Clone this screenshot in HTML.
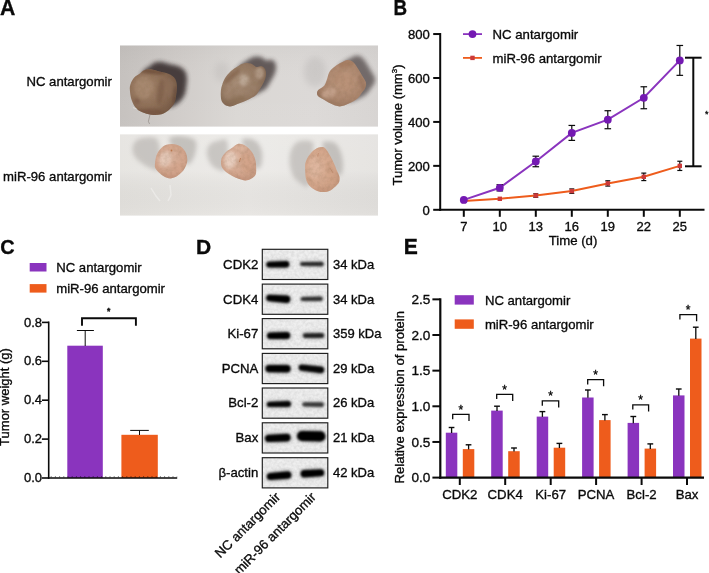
<!DOCTYPE html>
<html lang="en"><head><meta charset="utf-8"><title>Figure</title>
<style>
html,body{margin:0;padding:0;background:#fff;}
svg{display:block;}
svg text{font-family:"Liberation Sans", Arial, Helvetica, sans-serif;fill:#0a0a0a;stroke:#0a0a0a;stroke-width:0.33px;}
</style></head>
<body>
<svg width="709" height="573" viewBox="0 0 709 573">
<rect width="709" height="573" fill="#ffffff"/>
<defs>
<linearGradient id="blotbg" x1="0" y1="0" x2="0" y2="1"><stop offset="0" stop-color="#ececec"/><stop offset="0.5" stop-color="#e4e4e4"/><stop offset="1" stop-color="#ededed"/></linearGradient>
<filter id="bblur" x="-20%" y="-80%" width="140%" height="260%"><feGaussianBlur stdDeviation="1.1 0.95"/></filter>
<filter id="bhalo" x="-30%" y="-150%" width="160%" height="400%"><feGaussianBlur stdDeviation="2.6 2.4"/></filter>
<filter id="noise" x="0" y="0" width="100%" height="100%"><feTurbulence type="fractalNoise" baseFrequency="0.35" numOctaves="2" seed="7" result="n"/><feColorMatrix type="matrix" values="0 0 0 0 0  0 0 0 0 0  0 0 0 0 0  1.6 0 0 0 -0.45"/></filter>
<clipPath id="bc0"><rect x="262.3" y="249.3" width="65.5" height="30.2"/></clipPath><clipPath id="bc1"><rect x="262.3" y="284.1" width="65.5" height="30.2"/></clipPath><clipPath id="bc2"><rect x="262.3" y="318.6" width="65.5" height="30.2"/></clipPath><clipPath id="bc3"><rect x="262.3" y="353.4" width="65.5" height="30.2"/></clipPath><clipPath id="bc4"><rect x="262.3" y="388.0" width="65.5" height="30.2"/></clipPath><clipPath id="bc5"><rect x="262.3" y="422.8" width="65.5" height="30.2"/></clipPath><clipPath id="bc6"><rect x="262.3" y="457.7" width="65.5" height="30.2"/></clipPath>

<linearGradient id="pbg1" x1="0" y1="0" x2="1" y2="0"><stop offset="0" stop-color="#c5c1be"/><stop offset="0.22" stop-color="#d0ccc9"/><stop offset="0.45" stop-color="#dad7d4"/><stop offset="0.75" stop-color="#dcd9d7"/><stop offset="1" stop-color="#d7d4d2"/></linearGradient>
<linearGradient id="pbg1v" x1="0" y1="0" x2="0" y2="1"><stop offset="0" stop-color="#000" stop-opacity="0.03"/><stop offset="0.5" stop-color="#fff" stop-opacity="0"/><stop offset="1" stop-color="#fff" stop-opacity="0.03"/></linearGradient>
<linearGradient id="pbg2" x1="0" y1="0" x2="1" y2="0"><stop offset="0" stop-color="#e4e2de"/><stop offset="0.5" stop-color="#ebe9e6"/><stop offset="1" stop-color="#e3e1de"/></linearGradient>
<linearGradient id="pbg2v" x1="0" y1="0" x2="0" y2="1"><stop offset="0" stop-color="#fff" stop-opacity="0.12"/><stop offset="0.45" stop-color="#fff" stop-opacity="0.1"/><stop offset="1" stop-color="#000" stop-opacity="0.01"/></linearGradient>
<filter id="sh" x="-40%" y="-40%" width="180%" height="180%"><feGaussianBlur stdDeviation="2.2"/></filter>
<filter id="sh3" x="-40%" y="-40%" width="180%" height="180%"><feGaussianBlur stdDeviation="2.0"/></filter>
<filter id="sh2" x="-60%" y="-60%" width="220%" height="220%"><feGaussianBlur stdDeviation="3.2"/></filter>
<filter id="tb" x="-10%" y="-10%" width="120%" height="120%"><feGaussianBlur stdDeviation="0.7"/></filter>
<filter id="tb2" x="-30%" y="-30%" width="160%" height="160%"><feGaussianBlur stdDeviation="1.8"/></filter>
<radialGradient id="gT" cx="0.35" cy="0.4" r="0.75"><stop offset="0" stop-color="#a4856c"/><stop offset="0.55" stop-color="#8e6f58"/><stop offset="1" stop-color="#6f5441"/></radialGradient>
<radialGradient id="gT2" cx="0.4" cy="0.45" r="0.75"><stop offset="0" stop-color="#a88e78"/><stop offset="0.55" stop-color="#957a64"/><stop offset="1" stop-color="#765b47"/></radialGradient>
<radialGradient id="gT3" cx="0.55" cy="0.45" r="0.75"><stop offset="0" stop-color="#c09a80"/><stop offset="0.6" stop-color="#a9846c"/><stop offset="1" stop-color="#8d6b56"/></radialGradient>
<radialGradient id="gB" cx="0.45" cy="0.4" r="0.75"><stop offset="0" stop-color="#dbb5a0"/><stop offset="0.6" stop-color="#d1a48c"/><stop offset="1" stop-color="#c0947c"/></radialGradient>
<radialGradient id="gB3" cx="0.4" cy="0.45" r="0.75"><stop offset="0" stop-color="#dcb299"/><stop offset="0.6" stop-color="#d2a489"/><stop offset="1" stop-color="#c4957a"/></radialGradient>
<filter id="tnoise" x="0" y="0" width="100%" height="100%"><feTurbulence type="fractalNoise" baseFrequency="0.22" numOctaves="3" seed="3"/><feColorMatrix type="matrix" values="0 0 0 0 0.25  0 0 0 0 0.15  0 0 0 0 0.08  0 0 0 1.5 -0.55"/></filter>
<clipPath id="c1"><rect x="120" y="45.3" width="258" height="81.5"/></clipPath>
<clipPath id="c2"><rect x="120" y="134.2" width="258" height="81.6"/></clipPath>
</defs>
<text x="111.9" y="85.7" font-size="13.15" text-anchor="end" font-weight="normal" >NC antargomir</text>
<text x="111.9" y="181.4" font-size="13.15" text-anchor="end" font-weight="normal" >miR-96 antargomir</text>
<g clip-path="url(#c1)">
<rect x="120" y="45.3" width="258" height="81.5" fill="url(#pbg1)"/>
<rect x="120" y="45.3" width="258" height="81.5" fill="url(#pbg1v)"/>
<path d="M129.9,90.4 C129.7,87.8 129.8,86.4 130.5,84.3 C131.2,82.2 132.6,79.4 134.2,77.6 C135.8,75.8 138.6,74.5 140.3,73.3 C142.0,72.1 142.6,70.9 144.5,70.3 C146.4,69.7 149.1,69.1 151.9,69.4 C154.8,69.7 158.6,71.2 161.6,72.1 C164.6,72.9 167.9,73.4 170.2,74.5 C172.4,75.6 174.0,77.0 175.1,78.8 C176.2,80.6 176.7,83.0 176.9,85.5 C177.1,88.0 176.7,91.2 176.3,94.1 C175.9,96.9 175.7,99.9 174.5,102.6 C173.3,105.2 171.2,108.1 169.0,110.0 C166.8,111.9 164.2,113.4 161.6,114.2 C158.9,115.0 155.9,115.1 153.1,114.9 C150.2,114.7 147.2,114.0 144.5,113.0 C141.8,112.0 138.7,110.9 136.6,108.8 C134.5,106.7 132.8,103.3 131.7,100.2 C130.6,97.1 130.1,93.1 129.9,90.4Z" transform="translate(10,-7.5)" fill="#352c2b" opacity="0.88" filter="url(#sh)"/>
<path d="M220.8,95.4 C220.7,93.1 220.7,90.3 221.4,87.5 C222.1,84.7 223.2,81.2 224.8,78.4 C226.4,75.7 228.7,73.1 231.0,71.0 C233.3,68.9 236.0,67.2 238.4,65.9 C240.8,64.6 243.1,63.5 245.2,63.1 C247.3,62.7 249.0,63.0 250.9,63.6 C252.8,64.2 254.6,66.5 256.5,67.0 C258.4,67.5 260.7,65.9 262.2,66.5 C263.7,67.1 265.0,68.6 265.6,70.4 C266.2,72.2 266.1,74.9 265.6,77.2 C265.1,79.5 263.9,81.8 262.8,84.1 C261.7,86.4 260.0,89.0 258.8,90.9 C257.6,92.8 257.3,93.9 255.4,95.4 C253.5,96.9 250.2,98.6 247.5,99.9 C244.8,101.2 242.2,102.2 239.5,103.3 C236.8,104.3 233.9,105.8 231.6,106.2 C229.3,106.6 227.5,106.4 225.9,105.6 C224.3,104.8 222.8,103.3 221.9,101.6 C221.1,99.9 220.9,97.8 220.8,95.4Z" transform="translate(10,-6.5)" fill="#352c2b" opacity="0.72" filter="url(#sh)"/>
<path d="M317.0,93.4 C317.0,92.4 317.0,91.3 318.2,90.0 C319.4,88.7 322.9,87.4 324.4,85.5 C325.9,83.6 326.3,80.9 327.2,78.6 C328.1,76.3 328.2,73.9 329.5,71.8 C330.8,69.7 333.1,67.8 335.2,66.2 C337.3,64.6 339.9,63.2 342.0,62.2 C344.1,61.2 345.8,59.9 347.7,59.9 C349.6,59.9 351.6,60.8 353.3,62.2 C355.0,63.6 356.5,66.2 357.9,68.4 C359.3,70.6 360.6,72.9 361.9,75.2 C363.2,77.5 365.2,80.0 365.8,82.1 C366.4,84.2 366.1,85.8 365.3,87.7 C364.6,89.6 362.7,91.5 361.3,93.4 C359.9,95.3 358.9,97.4 356.8,99.1 C354.7,100.8 351.7,102.4 348.8,103.6 C345.9,104.8 342.7,106.5 339.7,106.5 C336.7,106.5 333.4,104.8 330.6,103.6 C327.8,102.4 324.8,100.3 322.7,99.1 C320.6,97.9 319.1,97.2 318.2,96.2 C317.2,95.2 317.0,94.4 317.0,93.4Z" transform="translate(9,-4.5)" fill="#352c2b" opacity="0.62" filter="url(#sh)"/>
<ellipse cx="315" cy="72" rx="11" ry="15" fill="#8f8c8b" opacity="0.20" filter="url(#sh2)"/>
<ellipse cx="222" cy="72" rx="8" ry="10" fill="#8f8c8b" opacity="0.15" filter="url(#sh2)"/>
<clipPath id="tc1"><path d="M129.9,90.4 C129.7,87.8 129.8,86.4 130.5,84.3 C131.2,82.2 132.6,79.4 134.2,77.6 C135.8,75.8 138.6,74.5 140.3,73.3 C142.0,72.1 142.6,70.9 144.5,70.3 C146.4,69.7 149.1,69.1 151.9,69.4 C154.8,69.7 158.6,71.2 161.6,72.1 C164.6,72.9 167.9,73.4 170.2,74.5 C172.4,75.6 174.0,77.0 175.1,78.8 C176.2,80.6 176.7,83.0 176.9,85.5 C177.1,88.0 176.7,91.2 176.3,94.1 C175.9,96.9 175.7,99.9 174.5,102.6 C173.3,105.2 171.2,108.1 169.0,110.0 C166.8,111.9 164.2,113.4 161.6,114.2 C158.9,115.0 155.9,115.1 153.1,114.9 C150.2,114.7 147.2,114.0 144.5,113.0 C141.8,112.0 138.7,110.9 136.6,108.8 C134.5,106.7 132.8,103.3 131.7,100.2 C130.6,97.1 130.1,93.1 129.9,90.4Z"/></clipPath>
<g filter="url(#tb)">
<path d="M129.9,90.4 C129.7,87.8 129.8,86.4 130.5,84.3 C131.2,82.2 132.6,79.4 134.2,77.6 C135.8,75.8 138.6,74.5 140.3,73.3 C142.0,72.1 142.6,70.9 144.5,70.3 C146.4,69.7 149.1,69.1 151.9,69.4 C154.8,69.7 158.6,71.2 161.6,72.1 C164.6,72.9 167.9,73.4 170.2,74.5 C172.4,75.6 174.0,77.0 175.1,78.8 C176.2,80.6 176.7,83.0 176.9,85.5 C177.1,88.0 176.7,91.2 176.3,94.1 C175.9,96.9 175.7,99.9 174.5,102.6 C173.3,105.2 171.2,108.1 169.0,110.0 C166.8,111.9 164.2,113.4 161.6,114.2 C158.9,115.0 155.9,115.1 153.1,114.9 C150.2,114.7 147.2,114.0 144.5,113.0 C141.8,112.0 138.7,110.9 136.6,108.8 C134.5,106.7 132.8,103.3 131.7,100.2 C130.6,97.1 130.1,93.1 129.9,90.4Z" fill="url(#gT)"/>
<g clip-path="url(#tc1)">
<g filter="url(#tb2)">
<ellipse cx="143.5" cy="88" rx="9" ry="11" fill="#a78a70" opacity="0.8" transform="rotate(0 143.5 88)"/>
<ellipse cx="160.5" cy="92" rx="3.5" ry="13" fill="#775842" opacity="0.6" transform="rotate(8 160.5 92)"/>
<ellipse cx="170" cy="88" rx="4" ry="9" fill="#8f705a" opacity="0.6" transform="rotate(0 170 88)"/>
<ellipse cx="152" cy="71.5" rx="14" ry="2.6" fill="#684a34" opacity="0.75" transform="rotate(6 152 71.5)"/>
<ellipse cx="150" cy="112" rx="15" ry="3.2" fill="#74533e" opacity="0.7" transform="rotate(0 150 112)"/>
<ellipse cx="137" cy="101" rx="3" ry="3" fill="#74503b" opacity="0.5" transform="rotate(0 137 101)"/>
<ellipse cx="175" cy="98" rx="2.5" ry="12" fill="#5f4636" opacity="0.55" transform="rotate(0 175 98)"/>
</g>
<rect x="127.9" y="67.4" width="51.0" height="49.5" filter="url(#tnoise)" opacity="0.28"/>
</g></g>
<clipPath id="tc2"><path d="M220.8,95.4 C220.7,93.1 220.7,90.3 221.4,87.5 C222.1,84.7 223.2,81.2 224.8,78.4 C226.4,75.7 228.7,73.1 231.0,71.0 C233.3,68.9 236.0,67.2 238.4,65.9 C240.8,64.6 243.1,63.5 245.2,63.1 C247.3,62.7 249.0,63.0 250.9,63.6 C252.8,64.2 254.6,66.5 256.5,67.0 C258.4,67.5 260.7,65.9 262.2,66.5 C263.7,67.1 265.0,68.6 265.6,70.4 C266.2,72.2 266.1,74.9 265.6,77.2 C265.1,79.5 263.9,81.8 262.8,84.1 C261.7,86.4 260.0,89.0 258.8,90.9 C257.6,92.8 257.3,93.9 255.4,95.4 C253.5,96.9 250.2,98.6 247.5,99.9 C244.8,101.2 242.2,102.2 239.5,103.3 C236.8,104.3 233.9,105.8 231.6,106.2 C229.3,106.6 227.5,106.4 225.9,105.6 C224.3,104.8 222.8,103.3 221.9,101.6 C221.1,99.9 220.9,97.8 220.8,95.4Z"/></clipPath>
<g filter="url(#tb)">
<path d="M220.8,95.4 C220.7,93.1 220.7,90.3 221.4,87.5 C222.1,84.7 223.2,81.2 224.8,78.4 C226.4,75.7 228.7,73.1 231.0,71.0 C233.3,68.9 236.0,67.2 238.4,65.9 C240.8,64.6 243.1,63.5 245.2,63.1 C247.3,62.7 249.0,63.0 250.9,63.6 C252.8,64.2 254.6,66.5 256.5,67.0 C258.4,67.5 260.7,65.9 262.2,66.5 C263.7,67.1 265.0,68.6 265.6,70.4 C266.2,72.2 266.1,74.9 265.6,77.2 C265.1,79.5 263.9,81.8 262.8,84.1 C261.7,86.4 260.0,89.0 258.8,90.9 C257.6,92.8 257.3,93.9 255.4,95.4 C253.5,96.9 250.2,98.6 247.5,99.9 C244.8,101.2 242.2,102.2 239.5,103.3 C236.8,104.3 233.9,105.8 231.6,106.2 C229.3,106.6 227.5,106.4 225.9,105.6 C224.3,104.8 222.8,103.3 221.9,101.6 C221.1,99.9 220.9,97.8 220.8,95.4Z" fill="url(#gT2)"/>
<g clip-path="url(#tc2)">
<g filter="url(#tb2)">
<ellipse cx="244" cy="80" rx="5" ry="5.5" fill="#bfad9b" opacity="0.8" transform="rotate(0 244 80)"/>
<ellipse cx="259.5" cy="73" rx="4.5" ry="6" fill="#b8a18d" opacity="0.8" transform="rotate(0 259.5 73)"/>
<ellipse cx="232" cy="76" rx="11" ry="2.6" fill="#7f6049" opacity="0.65" transform="rotate(-42 232 76)"/>
<ellipse cx="236" cy="101" rx="11" ry="3.2" fill="#85694f" opacity="0.55" transform="rotate(-22 236 101)"/>
<ellipse cx="228" cy="92" rx="4" ry="7" fill="#a58a73" opacity="0.5" transform="rotate(0 228 92)"/>
<ellipse cx="253" cy="89" rx="4" ry="7" fill="#9a7f69" opacity="0.5" transform="rotate(30 253 89)"/>
</g>
<rect x="218.8" y="61.1" width="48.8" height="47.1" filter="url(#tnoise)" opacity="0.28"/>
</g></g>
<clipPath id="tc3"><path d="M317.0,93.4 C317.0,92.4 317.0,91.3 318.2,90.0 C319.4,88.7 322.9,87.4 324.4,85.5 C325.9,83.6 326.3,80.9 327.2,78.6 C328.1,76.3 328.2,73.9 329.5,71.8 C330.8,69.7 333.1,67.8 335.2,66.2 C337.3,64.6 339.9,63.2 342.0,62.2 C344.1,61.2 345.8,59.9 347.7,59.9 C349.6,59.9 351.6,60.8 353.3,62.2 C355.0,63.6 356.5,66.2 357.9,68.4 C359.3,70.6 360.6,72.9 361.9,75.2 C363.2,77.5 365.2,80.0 365.8,82.1 C366.4,84.2 366.1,85.8 365.3,87.7 C364.6,89.6 362.7,91.5 361.3,93.4 C359.9,95.3 358.9,97.4 356.8,99.1 C354.7,100.8 351.7,102.4 348.8,103.6 C345.9,104.8 342.7,106.5 339.7,106.5 C336.7,106.5 333.4,104.8 330.6,103.6 C327.8,102.4 324.8,100.3 322.7,99.1 C320.6,97.9 319.1,97.2 318.2,96.2 C317.2,95.2 317.0,94.4 317.0,93.4Z"/></clipPath>
<g filter="url(#tb)">
<path d="M317.0,93.4 C317.0,92.4 317.0,91.3 318.2,90.0 C319.4,88.7 322.9,87.4 324.4,85.5 C325.9,83.6 326.3,80.9 327.2,78.6 C328.1,76.3 328.2,73.9 329.5,71.8 C330.8,69.7 333.1,67.8 335.2,66.2 C337.3,64.6 339.9,63.2 342.0,62.2 C344.1,61.2 345.8,59.9 347.7,59.9 C349.6,59.9 351.6,60.8 353.3,62.2 C355.0,63.6 356.5,66.2 357.9,68.4 C359.3,70.6 360.6,72.9 361.9,75.2 C363.2,77.5 365.2,80.0 365.8,82.1 C366.4,84.2 366.1,85.8 365.3,87.7 C364.6,89.6 362.7,91.5 361.3,93.4 C359.9,95.3 358.9,97.4 356.8,99.1 C354.7,100.8 351.7,102.4 348.8,103.6 C345.9,104.8 342.7,106.5 339.7,106.5 C336.7,106.5 333.4,104.8 330.6,103.6 C327.8,102.4 324.8,100.3 322.7,99.1 C320.6,97.9 319.1,97.2 318.2,96.2 C317.2,95.2 317.0,94.4 317.0,93.4Z" fill="url(#gT3)"/>
<g clip-path="url(#tc3)">
<g filter="url(#tb2)">
<ellipse cx="329" cy="93" rx="8" ry="5" fill="#c6a48d" opacity="0.8" transform="rotate(-25 329 93)"/>
<ellipse cx="346" cy="64" rx="8" ry="3.5" fill="#a1775c" opacity="0.6" transform="rotate(-15 346 64)"/>
<ellipse cx="347" cy="82" rx="7" ry="9" fill="#b88f74" opacity="0.6" transform="rotate(0 347 82)"/>
<ellipse cx="362" cy="84" rx="2.6" ry="10" fill="#94705a" opacity="0.6" transform="rotate(-20 362 84)"/>
<ellipse cx="342" cy="104" rx="11" ry="2.6" fill="#a07b64" opacity="0.55" transform="rotate(-12 342 104)"/>
<ellipse cx="338" cy="77" rx="2" ry="8" fill="#a47a60" opacity="0.4" transform="rotate(15 338 77)"/>
</g>
<rect x="315.0" y="57.9" width="52.8" height="50.6" filter="url(#tnoise)" opacity="0.28"/>
</g></g>
<path d="M150,114.5 L148.4,121.5 L149.6,124" stroke="#6a6058" stroke-width="0.5" fill="none" opacity="0.8"/>
<path d="M136.6,108.8 L133,107.6" stroke="#e8e2dc" stroke-width="0.7" fill="none"/>
</g>
<g clip-path="url(#c2)">
<rect x="120" y="134.2" width="258" height="81.6" fill="url(#pbg2)"/>
<rect x="120" y="134.2" width="258" height="81.6" fill="url(#pbg2v)"/>
<path d="M132.7,146.7 C133.3,144.2 135.0,141.3 137.3,139.8 C139.6,138.3 143.1,137.3 146.5,137.5 C149.9,137.7 155.8,135.7 158.0,140.9 C160.2,146.1 161.5,164.1 160.0,168.5 C158.5,172.9 152.2,168.6 148.8,167.4 C145.4,166.2 142.1,163.7 139.6,161.6 C137.1,159.5 135.0,157.2 133.8,154.7 C132.7,152.2 132.1,149.2 132.7,146.7Z" fill="#aaa6a2" opacity="0.52" filter="url(#sh3)"/>
<path d="M206.8,152.0 C207.0,149.2 208.3,146.0 210.2,144.1 C212.1,142.2 215.4,141.1 218.2,140.7 C221.0,140.3 225.9,137.1 227.2,141.8 C228.5,146.5 228.1,164.7 226.0,169.0 C223.9,173.3 217.6,169.2 214.8,167.9 C212.0,166.6 210.4,163.8 209.1,161.1 C207.8,158.4 206.6,154.8 206.8,152.0Z" fill="#aaa6a2" opacity="0.52" filter="url(#sh3)"/>
<path d="M289.5,159.7 C289.6,155.9 290.3,151.4 291.8,148.4 C293.3,145.4 295.4,142.7 298.6,141.5 C301.8,140.3 308.6,140.3 311.1,141.5 C313.6,142.7 313.8,141.2 313.4,148.4 C313.0,155.6 311.8,179.4 309.0,184.7 C306.2,190.0 299.4,182.4 296.4,180.1 C293.4,177.8 292.3,174.4 291.2,171.0 C290.1,167.6 289.4,163.5 289.5,159.7Z" fill="#aaa6a2" opacity="0.52" filter="url(#sh3)"/>
<path d="M169.5,140.9 C168.4,137.0 172.0,136.9 175.3,136.3 C178.6,135.7 185.7,136.5 189.1,137.5 C192.5,138.5 195.1,139.2 196.0,142.1 C196.9,145.0 196.0,151.1 194.8,154.7 C193.7,158.3 191.2,163.0 189.1,163.9 C187.0,164.8 185.3,163.8 182.0,160.0 C178.7,156.2 170.6,144.8 169.5,140.9Z" fill="#a6a29e" opacity="0.56" filter="url(#sh3)"/>
<path d="M242.0,141.8 C241.4,138.2 245.2,138.4 247.7,138.4 C250.2,138.4 254.4,139.5 256.8,141.8 C259.2,144.1 261.1,148.2 261.9,152.0 C262.6,155.8 262.1,161.7 261.3,164.5 C260.5,167.3 258.5,169.8 256.8,169.0 C255.1,168.2 253.5,164.5 251.0,160.0 C248.5,155.5 242.6,145.4 242.0,141.8Z" fill="#a6a29e" opacity="0.56" filter="url(#sh3)"/>
<path d="M322.5,144.9 C321.9,140.5 325.8,141.7 328.1,141.5 C330.4,141.3 333.8,141.5 336.1,143.8 C338.4,146.1 340.7,151.0 341.8,155.2 C342.9,159.4 343.3,165.4 342.9,168.8 C342.5,172.2 341.3,175.7 339.5,175.6 C337.7,175.5 334.8,173.1 332.0,168.0 C329.2,162.9 323.1,149.3 322.5,144.9Z" fill="#a6a29e" opacity="0.56" filter="url(#sh3)"/>
<clipPath id="tc4"><path d="M154.9,165.5 C154.9,164.0 155.1,161.4 155.5,159.4 C155.9,157.4 156.4,155.2 157.4,153.3 C158.4,151.4 160.1,149.2 161.6,147.8 C163.1,146.4 164.4,145.4 166.5,144.8 C168.6,144.2 171.6,143.9 173.9,144.2 C176.2,144.5 178.7,145.3 180.6,146.6 C182.5,147.9 184.4,150.0 185.5,152.1 C186.6,154.2 187.2,157.2 187.3,159.4 C187.4,161.6 186.9,163.5 186.1,165.5 C185.3,167.5 184.0,169.8 182.4,171.6 C180.8,173.4 178.3,175.4 176.3,176.5 C174.3,177.6 172.2,178.4 170.2,178.4 C168.2,178.4 166.0,177.5 164.1,176.5 C162.2,175.5 160.0,173.6 158.6,172.3 C157.2,171.0 156.1,169.7 155.5,168.6 C154.9,167.5 154.9,167.0 154.9,165.5Z"/></clipPath>
<g filter="url(#tb)">
<path d="M154.9,165.5 C154.9,164.0 155.1,161.4 155.5,159.4 C155.9,157.4 156.4,155.2 157.4,153.3 C158.4,151.4 160.1,149.2 161.6,147.8 C163.1,146.4 164.4,145.4 166.5,144.8 C168.6,144.2 171.6,143.9 173.9,144.2 C176.2,144.5 178.7,145.3 180.6,146.6 C182.5,147.9 184.4,150.0 185.5,152.1 C186.6,154.2 187.2,157.2 187.3,159.4 C187.4,161.6 186.9,163.5 186.1,165.5 C185.3,167.5 184.0,169.8 182.4,171.6 C180.8,173.4 178.3,175.4 176.3,176.5 C174.3,177.6 172.2,178.4 170.2,178.4 C168.2,178.4 166.0,177.5 164.1,176.5 C162.2,175.5 160.0,173.6 158.6,172.3 C157.2,171.0 156.1,169.7 155.5,168.6 C154.9,167.5 154.9,167.0 154.9,165.5Z" fill="url(#gB)"/>
<g clip-path="url(#tc4)">
<g filter="url(#tb2)">
<ellipse cx="165" cy="159" rx="6" ry="8" fill="#ead0c1" opacity="0.75" transform="rotate(20 165 159)"/>
<ellipse cx="178" cy="168" rx="6" ry="6" fill="#d3a48b" opacity="0.6" transform="rotate(0 178 168)"/>
<ellipse cx="172" cy="147.5" rx="9" ry="2.5" fill="#d4a58b" opacity="0.6" transform="rotate(0 172 147.5)"/>
<ellipse cx="170" cy="176.5" rx="10" ry="2.4" fill="#c4937a" opacity="0.6" transform="rotate(0 170 176.5)"/>
</g>
<rect x="152.9" y="142.2" width="36.4" height="38.2" filter="url(#tnoise)" opacity="0.28"/>
</g></g>
<clipPath id="tc5"><path d="M221.0,163.4 C220.9,161.5 221.2,159.0 222.1,157.1 C222.9,155.2 224.5,153.5 226.1,152.0 C227.7,150.5 229.9,149.4 231.8,148.1 C233.7,146.8 235.6,144.7 237.5,144.1 C239.4,143.5 241.2,143.8 243.1,144.6 C245.0,145.3 247.1,147.0 248.8,148.6 C250.5,150.2 252.2,152.2 253.3,154.3 C254.4,156.4 255.1,158.8 255.6,161.1 C256.1,163.4 256.2,165.6 256.2,167.9 C256.2,170.2 256.4,172.9 255.6,174.7 C254.8,176.5 252.8,177.8 251.1,178.7 C249.4,179.6 247.5,180.4 245.4,180.4 C243.3,180.4 240.8,179.4 238.6,178.7 C236.4,177.9 234.3,176.9 232.3,175.9 C230.3,174.9 228.3,173.7 226.7,172.5 C225.1,171.3 223.6,170.0 222.7,168.5 C221.8,167.0 221.1,165.3 221.0,163.4Z"/></clipPath>
<g filter="url(#tb)">
<path d="M221.0,163.4 C220.9,161.5 221.2,159.0 222.1,157.1 C222.9,155.2 224.5,153.5 226.1,152.0 C227.7,150.5 229.9,149.4 231.8,148.1 C233.7,146.8 235.6,144.7 237.5,144.1 C239.4,143.5 241.2,143.8 243.1,144.6 C245.0,145.3 247.1,147.0 248.8,148.6 C250.5,150.2 252.2,152.2 253.3,154.3 C254.4,156.4 255.1,158.8 255.6,161.1 C256.1,163.4 256.2,165.6 256.2,167.9 C256.2,170.2 256.4,172.9 255.6,174.7 C254.8,176.5 252.8,177.8 251.1,178.7 C249.4,179.6 247.5,180.4 245.4,180.4 C243.3,180.4 240.8,179.4 238.6,178.7 C236.4,177.9 234.3,176.9 232.3,175.9 C230.3,174.9 228.3,173.7 226.7,172.5 C225.1,171.3 223.6,170.0 222.7,168.5 C221.8,167.0 221.1,165.3 221.0,163.4Z" fill="url(#gB)"/>
<g clip-path="url(#tc5)">
<g filter="url(#tb2)">
<ellipse cx="230" cy="160" rx="6" ry="9" fill="#ecd5c7" opacity="0.8" transform="rotate(10 230 160)"/>
<ellipse cx="246" cy="163" rx="6" ry="10" fill="#d3a286" opacity="0.65" transform="rotate(-10 246 163)"/>
<ellipse cx="241" cy="148" rx="7" ry="3" fill="#dfb9a2" opacity="0.6" transform="rotate(0 241 148)"/>
<ellipse cx="241" cy="179" rx="10" ry="2.4" fill="#c4937a" opacity="0.6" transform="rotate(8 241 179)"/>
</g>
<rect x="219.0" y="142.1" width="39.2" height="40.3" filter="url(#tnoise)" opacity="0.28"/>
</g></g>
<clipPath id="tc6"><path d="M305.2,169.9 C305.1,167.2 305.0,165.2 305.4,163.1 C305.8,161.0 306.6,159.3 307.7,157.4 C308.8,155.5 310.5,153.4 312.2,151.8 C313.9,150.2 316.0,148.6 317.9,147.8 C319.8,147.0 322.1,146.7 323.6,147.2 C325.1,147.7 325.9,149.1 327.0,150.6 C328.1,152.1 329.3,154.2 330.4,156.3 C331.5,158.4 332.8,160.8 333.8,163.1 C334.8,165.4 335.7,167.6 336.6,169.9 C337.6,172.2 339.1,174.6 339.5,176.7 C339.9,178.8 339.7,180.7 338.9,182.4 C338.1,184.1 336.5,185.5 334.9,186.9 C333.3,188.3 331.4,190.0 329.3,190.9 C327.2,191.8 324.8,192.2 322.5,192.1 C320.2,192.0 317.8,191.4 315.6,190.3 C313.4,189.2 311.0,187.7 309.4,185.8 C307.8,183.9 306.7,181.7 306.0,179.0 C305.3,176.3 305.3,172.6 305.2,169.9Z"/></clipPath>
<g filter="url(#tb)">
<path d="M305.2,169.9 C305.1,167.2 305.0,165.2 305.4,163.1 C305.8,161.0 306.6,159.3 307.7,157.4 C308.8,155.5 310.5,153.4 312.2,151.8 C313.9,150.2 316.0,148.6 317.9,147.8 C319.8,147.0 322.1,146.7 323.6,147.2 C325.1,147.7 325.9,149.1 327.0,150.6 C328.1,152.1 329.3,154.2 330.4,156.3 C331.5,158.4 332.8,160.8 333.8,163.1 C334.8,165.4 335.7,167.6 336.6,169.9 C337.6,172.2 339.1,174.6 339.5,176.7 C339.9,178.8 339.7,180.7 338.9,182.4 C338.1,184.1 336.5,185.5 334.9,186.9 C333.3,188.3 331.4,190.0 329.3,190.9 C327.2,191.8 324.8,192.2 322.5,192.1 C320.2,192.0 317.8,191.4 315.6,190.3 C313.4,189.2 311.0,187.7 309.4,185.8 C307.8,183.9 306.7,181.7 306.0,179.0 C305.3,176.3 305.3,172.6 305.2,169.9Z" fill="url(#gB3)"/>
<g clip-path="url(#tc6)">
<g filter="url(#tb2)">
<ellipse cx="314" cy="168" rx="6" ry="11" fill="#dfb8a1" opacity="0.7" transform="rotate(0 314 168)"/>
<ellipse cx="330" cy="172" rx="4" ry="10" fill="#cf9f84" opacity="0.5" transform="rotate(-20 330 172)"/>
<ellipse cx="322" cy="190" rx="10" ry="2.6" fill="#c5957b" opacity="0.6" transform="rotate(0 322 190)"/>
<ellipse cx="318" cy="150" rx="6" ry="3" fill="#d6a88d" opacity="0.5" transform="rotate(-30 318 150)"/>
</g>
<rect x="303.2" y="145.2" width="38.3" height="48.9" filter="url(#tnoise)" opacity="0.28"/>
</g></g>
<circle cx="171.5" cy="150.5" r="0.9" fill="#b26a3c" opacity="0.8" filter="url(#tb)"/>
<path d="M240.6,158 L239.4,162" stroke="#b06a44" stroke-width="0.9" opacity="0.7" fill="none" filter="url(#tb)"/>
<path d="M330,168 L333,173 M318.5,153 L317.6,156.5" stroke="#b47a5c" stroke-width="0.8" opacity="0.6" fill="none" filter="url(#tb)"/>
<path d="M151,188 L156,196 L160,201 M170,185 L171,195 L168,201" stroke="#f8f7f6" stroke-width="1.4" fill="none" opacity="0.45" filter="url(#tb)"/>
</g>
<line x1="440.2" y1="33.04000000000002" x2="440.2" y2="210.8" stroke="#0a0a0a" stroke-width="2" />
<line x1="439.2" y1="209.8" x2="704.5" y2="209.8" stroke="#0a0a0a" stroke-width="2" />
<line x1="433.2" y1="209.8" x2="440.2" y2="209.8" stroke="#0a0a0a" stroke-width="2" />
<text x="429.9" y="214.8" font-size="13.1" text-anchor="end" font-weight="normal" >0</text>
<line x1="433.2" y1="165.86" x2="440.2" y2="165.86" stroke="#0a0a0a" stroke-width="2" />
<text x="429.9" y="170.86" font-size="13.1" text-anchor="end" font-weight="normal" >200</text>
<line x1="433.2" y1="121.92000000000002" x2="440.2" y2="121.92000000000002" stroke="#0a0a0a" stroke-width="2" />
<text x="429.9" y="126.92000000000002" font-size="13.1" text-anchor="end" font-weight="normal" >400</text>
<line x1="433.2" y1="77.98000000000002" x2="440.2" y2="77.98000000000002" stroke="#0a0a0a" stroke-width="2" />
<text x="429.9" y="82.98000000000002" font-size="13.1" text-anchor="end" font-weight="normal" >600</text>
<line x1="433.2" y1="34.04000000000002" x2="440.2" y2="34.04000000000002" stroke="#0a0a0a" stroke-width="2" />
<text x="429.9" y="39.04000000000002" font-size="13.1" text-anchor="end" font-weight="normal" >800</text>
<line x1="463.8" y1="209.8" x2="463.8" y2="216.8" stroke="#0a0a0a" stroke-width="2" />
<text x="463.8" y="230.8" font-size="13" text-anchor="middle" font-weight="normal" >7</text>
<line x1="499.8" y1="209.8" x2="499.8" y2="216.8" stroke="#0a0a0a" stroke-width="2" />
<text x="499.8" y="230.8" font-size="13" text-anchor="middle" font-weight="normal" >10</text>
<line x1="535.8" y1="209.8" x2="535.8" y2="216.8" stroke="#0a0a0a" stroke-width="2" />
<text x="535.8" y="230.8" font-size="13" text-anchor="middle" font-weight="normal" >13</text>
<line x1="571.8" y1="209.8" x2="571.8" y2="216.8" stroke="#0a0a0a" stroke-width="2" />
<text x="571.8" y="230.8" font-size="13" text-anchor="middle" font-weight="normal" >16</text>
<line x1="607.8" y1="209.8" x2="607.8" y2="216.8" stroke="#0a0a0a" stroke-width="2" />
<text x="607.8" y="230.8" font-size="13" text-anchor="middle" font-weight="normal" >19</text>
<line x1="643.8" y1="209.8" x2="643.8" y2="216.8" stroke="#0a0a0a" stroke-width="2" />
<text x="643.8" y="230.8" font-size="13" text-anchor="middle" font-weight="normal" >22</text>
<line x1="679.8" y1="209.8" x2="679.8" y2="216.8" stroke="#0a0a0a" stroke-width="2" />
<text x="679.8" y="230.8" font-size="13" text-anchor="middle" font-weight="normal" >25</text>
<text x="573" y="244.8" font-size="13.2" text-anchor="middle" font-weight="normal" >Time (d)</text>
<text transform="translate(401.5,125) rotate(-90)" font-size="13" text-anchor="middle">Tumor volume (mm<tspan font-size="8" dy="-4.5">3</tspan><tspan dy="4.5">)</tspan></text>
<polyline points="463.8,201.0 499.8,198.8 535.8,195.5 571.8,191.1 607.8,183.4 643.8,176.8 679.8,165.9" fill="none" stroke="#EE5C1C" stroke-width="2"/>
<rect x="461.6" y="198.8" width="4.4" height="4.4" fill="#CC3A3A"/>
<rect x="497.6" y="196.6" width="4.4" height="4.4" fill="#CC3A3A"/>
<line x1="535.8" y1="193.76190000000003" x2="535.8" y2="197.27710000000002" stroke="#0a0a0a" stroke-width="1.2" />
<line x1="533.3" y1="193.76190000000003" x2="538.3" y2="193.76190000000003" stroke="#0a0a0a" stroke-width="1.2" />
<line x1="533.3" y1="197.27710000000002" x2="538.3" y2="197.27710000000002" stroke="#0a0a0a" stroke-width="1.2" />
<rect x="533.6" y="193.3" width="4.4" height="4.4" fill="#CC3A3A"/>
<line x1="571.8" y1="188.9285" x2="571.8" y2="193.32250000000002" stroke="#0a0a0a" stroke-width="1.2" />
<line x1="569.3" y1="188.9285" x2="574.3" y2="188.9285" stroke="#0a0a0a" stroke-width="1.2" />
<line x1="569.3" y1="193.32250000000002" x2="574.3" y2="193.32250000000002" stroke="#0a0a0a" stroke-width="1.2" />
<rect x="569.6" y="188.9" width="4.4" height="4.4" fill="#CC3A3A"/>
<line x1="607.8" y1="180.7996" x2="607.8" y2="186.07240000000002" stroke="#0a0a0a" stroke-width="1.2" />
<line x1="605.3" y1="180.7996" x2="610.3" y2="180.7996" stroke="#0a0a0a" stroke-width="1.2" />
<line x1="605.3" y1="186.07240000000002" x2="610.3" y2="186.07240000000002" stroke="#0a0a0a" stroke-width="1.2" />
<rect x="605.6" y="181.2" width="4.4" height="4.4" fill="#CC3A3A"/>
<line x1="643.8" y1="173.11010000000002" x2="643.8" y2="180.57990000000004" stroke="#0a0a0a" stroke-width="1.2" />
<line x1="641.3" y1="173.11010000000002" x2="646.3" y2="173.11010000000002" stroke="#0a0a0a" stroke-width="1.2" />
<line x1="641.3" y1="180.57990000000004" x2="646.3" y2="180.57990000000004" stroke="#0a0a0a" stroke-width="1.2" />
<rect x="641.6" y="174.6" width="4.4" height="4.4" fill="#CC3A3A"/>
<line x1="679.8" y1="161.24630000000002" x2="679.8" y2="170.4737" stroke="#0a0a0a" stroke-width="1.2" />
<line x1="677.3" y1="161.24630000000002" x2="682.3" y2="161.24630000000002" stroke="#0a0a0a" stroke-width="1.2" />
<line x1="677.3" y1="170.4737" x2="682.3" y2="170.4737" stroke="#0a0a0a" stroke-width="1.2" />
<rect x="677.6" y="163.7" width="4.4" height="4.4" fill="#CC3A3A"/>
<polyline points="463.8,199.9 499.8,187.8 535.8,161.5 571.8,132.9 607.8,119.7 643.8,97.8 679.8,60.4" fill="none" stroke="#8A34BE" stroke-width="2"/>
<circle cx="463.8" cy="199.9" r="3.9" fill="#7419B2"/>
<line x1="499.8" y1="184.75420000000003" x2="499.8" y2="190.9058" stroke="#0a0a0a" stroke-width="1.2" />
<line x1="496.5" y1="184.75420000000003" x2="503.1" y2="184.75420000000003" stroke="#0a0a0a" stroke-width="1.2" />
<line x1="496.5" y1="190.9058" x2="503.1" y2="190.9058" stroke="#0a0a0a" stroke-width="1.2" />
<circle cx="499.8" cy="187.8" r="3.9" fill="#7419B2"/>
<line x1="535.8" y1="156.19320000000002" x2="535.8" y2="166.7388" stroke="#0a0a0a" stroke-width="1.2" />
<line x1="532.5" y1="156.19320000000002" x2="539.0999999999999" y2="156.19320000000002" stroke="#0a0a0a" stroke-width="1.2" />
<line x1="532.5" y1="166.7388" x2="539.0999999999999" y2="166.7388" stroke="#0a0a0a" stroke-width="1.2" />
<circle cx="535.8" cy="161.5" r="3.9" fill="#7419B2"/>
<line x1="571.8" y1="125.43520000000002" x2="571.8" y2="140.37480000000002" stroke="#0a0a0a" stroke-width="1.2" />
<line x1="568.5" y1="125.43520000000002" x2="575.0999999999999" y2="125.43520000000002" stroke="#0a0a0a" stroke-width="1.2" />
<line x1="568.5" y1="140.37480000000002" x2="575.0999999999999" y2="140.37480000000002" stroke="#0a0a0a" stroke-width="1.2" />
<circle cx="571.8" cy="132.9" r="3.9" fill="#7419B2"/>
<line x1="607.8" y1="110.71530000000001" x2="607.8" y2="128.7307" stroke="#0a0a0a" stroke-width="1.2" />
<line x1="604.5" y1="110.71530000000001" x2="611.0999999999999" y2="110.71530000000001" stroke="#0a0a0a" stroke-width="1.2" />
<line x1="604.5" y1="128.7307" x2="611.0999999999999" y2="128.7307" stroke="#0a0a0a" stroke-width="1.2" />
<circle cx="607.8" cy="119.7" r="3.9" fill="#7419B2"/>
<line x1="643.8" y1="86.76800000000001" x2="643.8" y2="108.73800000000001" stroke="#0a0a0a" stroke-width="1.2" />
<line x1="640.5" y1="86.76800000000001" x2="647.0999999999999" y2="86.76800000000001" stroke="#0a0a0a" stroke-width="1.2" />
<line x1="640.5" y1="108.73800000000001" x2="647.0999999999999" y2="108.73800000000001" stroke="#0a0a0a" stroke-width="1.2" />
<circle cx="643.8" cy="97.8" r="3.9" fill="#7419B2"/>
<line x1="679.8" y1="45.4644" x2="679.8" y2="75.3436" stroke="#0a0a0a" stroke-width="1.2" />
<line x1="676.5" y1="45.4644" x2="683.0999999999999" y2="45.4644" stroke="#0a0a0a" stroke-width="1.2" />
<line x1="676.5" y1="75.3436" x2="683.0999999999999" y2="75.3436" stroke="#0a0a0a" stroke-width="1.2" />
<circle cx="679.8" cy="60.4" r="3.9" fill="#7419B2"/>
<line x1="463" y1="34.1" x2="482" y2="34.1" stroke="#8A34BE" stroke-width="1.8" />
<circle cx="472.5" cy="34.1" r="3.9" fill="#7419B2"/>
<text x="492.5" y="38.6" font-size="13.2" text-anchor="start" font-weight="normal" >NC antargomir</text>
<line x1="463" y1="57.9" x2="482" y2="57.9" stroke="#EE5C1C" stroke-width="1.8" />
<rect x="470.3" y="55.7" width="4.4" height="4.4" fill="#CC3A3A"/>
<text x="492.5" y="62.9" font-size="13.2" text-anchor="start" font-weight="normal" >miR-96 antargomir</text>
<line x1="693.3" y1="57.7" x2="693.3" y2="166.3" stroke="#0a0a0a" stroke-width="2" />
<line x1="685" y1="57.7" x2="701.6" y2="57.7" stroke="#0a0a0a" stroke-width="2" />
<line x1="685" y1="166.3" x2="701.6" y2="166.3" stroke="#0a0a0a" stroke-width="2" />
<text x="706.8" y="116.5" font-size="9" text-anchor="middle" font-weight="normal" >*</text>
<rect x="29.7" y="263" width="16.8" height="8.5" fill="#8A34BE"/>
<rect x="29.7" y="284.1" width="16.8" height="8.5" fill="#EE5C1C"/>
<text x="56.2" y="272" font-size="13.15" text-anchor="start" font-weight="normal" >NC antargomir</text>
<text x="56.2" y="293" font-size="13.15" text-anchor="start" font-weight="normal" >miR-96 antargomir</text>
<rect x="67.3" y="345.7" width="35.5" height="132.3" fill="#8A34BE"/>
<rect x="121.4" y="434.8" width="36.4" height="43.2" fill="#EE5C1C"/>
<line x1="85.2" y1="330.5" x2="85.2" y2="346" stroke="#0a0a0a" stroke-width="1" />
<line x1="76.9" y1="330.5" x2="93.9" y2="330.5" stroke="#0a0a0a" stroke-width="1" />
<line x1="139.5" y1="430.4" x2="139.5" y2="435" stroke="#0a0a0a" stroke-width="1" />
<line x1="130.2" y1="430.4" x2="148.8" y2="430.4" stroke="#0a0a0a" stroke-width="1" />
<line x1="48.7" y1="321.5" x2="48.7" y2="478.8" stroke="#0a0a0a" stroke-width="1.6" />
<line x1="47.900000000000006" y1="478.0" x2="177.2" y2="478.0" stroke="#0a0a0a" stroke-width="1.6" />
<line x1="50.7" y1="476.8" x2="177.2" y2="476.8" stroke="#0a0a0a" stroke-width="0.9" stroke-dasharray="1 3.2" opacity="0.75"/>
<line x1="41.900000000000006" y1="478.0" x2="48.7" y2="478.0" stroke="#0a0a0a" stroke-width="1.6" />
<text x="42.0" y="482.1" font-size="13" text-anchor="end" font-weight="normal" >0.0</text>
<line x1="41.900000000000006" y1="439.1" x2="48.7" y2="439.1" stroke="#0a0a0a" stroke-width="1.6" />
<text x="42.0" y="443.20000000000005" font-size="13" text-anchor="end" font-weight="normal" >0.2</text>
<line x1="41.900000000000006" y1="400.2" x2="48.7" y2="400.2" stroke="#0a0a0a" stroke-width="1.6" />
<text x="42.0" y="404.3" font-size="13" text-anchor="end" font-weight="normal" >0.4</text>
<line x1="41.900000000000006" y1="361.3" x2="48.7" y2="361.3" stroke="#0a0a0a" stroke-width="1.6" />
<text x="42.0" y="365.40000000000003" font-size="13" text-anchor="end" font-weight="normal" >0.6</text>
<line x1="41.900000000000006" y1="322.4" x2="48.7" y2="322.4" stroke="#0a0a0a" stroke-width="1.6" />
<text x="42.0" y="326.5" font-size="13" text-anchor="end" font-weight="normal" >0.8</text>
<text transform="translate(9.3,397) rotate(-90)" font-size="13" text-anchor="middle">Tumor weight (g)</text>
<polyline points="82,325.8 82,318.3 135.9,318.3 135.9,325.8" fill="none" stroke="#0a0a0a" stroke-width="1.9"/>
<text x="108.7" y="314.3" font-size="8.6" text-anchor="middle" font-weight="bold" >*</text>
<rect x="262.3" y="249.3" width="65.5" height="30.2" fill="#efefef"/>
<rect x="262.3" y="249.3" width="65.5" height="30.2" fill="#000" filter="url(#noise)" opacity="0.075"/>
<g clip-path="url(#bc0)"><g filter="url(#bhalo)" opacity="0.35"><path d="M269.1,261.8 L286.0,260.9 A3.3,3.3 0 0 1 286.0,267.5 L269.1,267.4 A2.8,2.8 0 0 1 269.1,261.8Z" fill="#050505" opacity="1.0"/><path d="M302.1,261.9 L321.5,261.7 A2.3,2.3 0 0 1 321.5,266.3 L302.1,266.1 A2.1,2.1 0 0 1 302.1,261.9Z" fill="#050505" opacity="0.78"/></g><g filter="url(#bblur)"><path d="M269.1,261.8 L286.0,260.9 A3.3,3.3 0 0 1 286.0,267.5 L269.1,267.4 A2.8,2.8 0 0 1 269.1,261.8Z" fill="#050505" opacity="1.0"/><path d="M302.1,261.9 L321.5,261.7 A2.3,2.3 0 0 1 321.5,266.3 L302.1,266.1 A2.1,2.1 0 0 1 302.1,261.9Z" fill="#050505" opacity="0.78"/></g></g>
<rect x="262.3" y="249.3" width="65.5" height="30.2" fill="none" stroke="#1c1c1c" stroke-width="1.15"/>
<text x="258.3" y="268.7" font-size="13.2" text-anchor="end" font-weight="normal" >CDK2</text>
<text x="333.0" y="268.7" font-size="13.0" text-anchor="start" font-weight="normal" >34 kDa</text>
<rect x="262.3" y="284.1" width="65.5" height="30.2" fill="#efefef"/>
<rect x="262.3" y="284.1" width="65.5" height="30.2" fill="#000" filter="url(#noise)" opacity="0.075"/>
<g clip-path="url(#bc1)"><g filter="url(#bhalo)" opacity="0.35"><path d="M269.4,294.8 L286.6,295.5 A3.7,3.7 0 0 1 286.6,302.9 L269.4,301.2 A3.2,3.2 0 0 1 269.4,294.8Z" fill="#050505" opacity="1.0"/><path d="M302.6,297.0 L320.6,296.6 A2.2,2.2 0 0 1 320.6,301.0 L302.6,301.0 A2.0,2.0 0 0 1 302.6,297.0Z" fill="#050505" opacity="0.76"/></g><g filter="url(#bblur)"><path d="M269.4,294.8 L286.6,295.5 A3.7,3.7 0 0 1 286.6,302.9 L269.4,301.2 A3.2,3.2 0 0 1 269.4,294.8Z" fill="#050505" opacity="1.0"/><path d="M302.6,297.0 L320.6,296.6 A2.2,2.2 0 0 1 320.6,301.0 L302.6,301.0 A2.0,2.0 0 0 1 302.6,297.0Z" fill="#050505" opacity="0.76"/></g></g>
<rect x="262.3" y="284.1" width="65.5" height="30.2" fill="none" stroke="#1c1c1c" stroke-width="1.15"/>
<text x="258.3" y="303.5" font-size="13.2" text-anchor="end" font-weight="normal" >CDK4</text>
<text x="333.0" y="303.5" font-size="13.0" text-anchor="start" font-weight="normal" >34 kDa</text>
<rect x="262.3" y="318.6" width="65.5" height="30.2" fill="#efefef"/>
<rect x="262.3" y="318.6" width="65.5" height="30.2" fill="#000" filter="url(#noise)" opacity="0.075"/>
<g clip-path="url(#bc2)"><g filter="url(#bhalo)" opacity="0.35"><path d="M270.2,332.6 L286.7,331.9 A3.5,3.5 0 0 1 286.7,338.9 L270.2,339.0 A3.2,3.2 0 0 1 270.2,332.6Z" fill="#050505" opacity="1.0"/><path d="M305.1,333.3 L321.7,333.1 A2.5,2.5 0 0 1 321.7,338.1 L305.1,337.9 A2.3,2.3 0 0 1 305.1,333.3Z" fill="#050505" opacity="0.82"/></g><g filter="url(#bblur)"><path d="M270.2,332.6 L286.7,331.9 A3.5,3.5 0 0 1 286.7,338.9 L270.2,339.0 A3.2,3.2 0 0 1 270.2,332.6Z" fill="#050505" opacity="1.0"/><path d="M305.1,333.3 L321.7,333.1 A2.5,2.5 0 0 1 321.7,338.1 L305.1,337.9 A2.3,2.3 0 0 1 305.1,333.3Z" fill="#050505" opacity="0.82"/></g></g>
<rect x="262.3" y="318.6" width="65.5" height="30.2" fill="none" stroke="#1c1c1c" stroke-width="1.15"/>
<text x="258.3" y="338.0" font-size="13.2" text-anchor="end" font-weight="normal" >Ki-67</text>
<text x="333.0" y="338.0" font-size="13.0" text-anchor="start" font-weight="normal" >359 kDa</text>
<rect x="262.3" y="353.4" width="65.5" height="30.2" fill="#efefef"/>
<rect x="262.3" y="353.4" width="65.5" height="30.2" fill="#000" filter="url(#noise)" opacity="0.075"/>
<g clip-path="url(#bc3)"><g filter="url(#bhalo)" opacity="0.35"><path d="M269.0,365.0 L286.9,365.1 A3.7,3.7 0 0 1 286.9,372.5 L269.0,372.2 A3.6,3.6 0 0 1 269.0,365.0Z" fill="#050505" opacity="1.0"/><path d="M301.7,364.5 L320.8,366.4 A3.4,3.4 0 0 1 320.8,373.2 L301.7,370.7 A3.1,3.1 0 0 1 301.7,364.5Z" fill="#050505" opacity="0.97"/></g><g filter="url(#bblur)"><path d="M269.0,365.0 L286.9,365.1 A3.7,3.7 0 0 1 286.9,372.5 L269.0,372.2 A3.6,3.6 0 0 1 269.0,365.0Z" fill="#050505" opacity="1.0"/><path d="M301.7,364.5 L320.8,366.4 A3.4,3.4 0 0 1 320.8,373.2 L301.7,370.7 A3.1,3.1 0 0 1 301.7,364.5Z" fill="#050505" opacity="0.97"/></g></g>
<rect x="262.3" y="353.4" width="65.5" height="30.2" fill="none" stroke="#1c1c1c" stroke-width="1.15"/>
<text x="258.3" y="372.79999999999995" font-size="13.2" text-anchor="end" font-weight="normal" >PCNA</text>
<text x="333.0" y="372.79999999999995" font-size="13.0" text-anchor="start" font-weight="normal" >29 kDa</text>
<rect x="262.3" y="388.0" width="65.5" height="30.2" fill="#efefef"/>
<rect x="262.3" y="388.0" width="65.5" height="30.2" fill="#000" filter="url(#noise)" opacity="0.075"/>
<g clip-path="url(#bc4)"><g filter="url(#bhalo)" opacity="0.35"><path d="M269.4,401.8 L288.1,401.1 A2.9,2.9 0 0 1 288.1,406.9 L269.4,407.0 A2.6,2.6 0 0 1 269.4,401.8Z" fill="#050505" opacity="0.97"/><path d="M304.3,402.3 L321.7,402.3 A2.3,2.3 0 0 1 321.7,406.9 L304.3,406.5 A2.1,2.1 0 0 1 304.3,402.3Z" fill="#050505" opacity="0.72"/></g><g filter="url(#bblur)"><path d="M269.4,401.8 L288.1,401.1 A2.9,2.9 0 0 1 288.1,406.9 L269.4,407.0 A2.6,2.6 0 0 1 269.4,401.8Z" fill="#050505" opacity="0.97"/><path d="M304.3,402.3 L321.7,402.3 A2.3,2.3 0 0 1 321.7,406.9 L304.3,406.5 A2.1,2.1 0 0 1 304.3,402.3Z" fill="#050505" opacity="0.72"/></g></g>
<rect x="262.3" y="388.0" width="65.5" height="30.2" fill="none" stroke="#1c1c1c" stroke-width="1.15"/>
<text x="258.3" y="407.4" font-size="13.2" text-anchor="end" font-weight="normal" >Bcl-2</text>
<text x="333.0" y="407.4" font-size="13.0" text-anchor="start" font-weight="normal" >26 kDa</text>
<rect x="262.3" y="422.8" width="65.5" height="30.2" fill="#efefef"/>
<rect x="262.3" y="422.8" width="65.5" height="30.2" fill="#000" filter="url(#noise)" opacity="0.075"/>
<g clip-path="url(#bc5)"><g filter="url(#bhalo)" opacity="0.35"><path d="M268.7,434.7 L286.7,433.7 A3.9,3.9 0 0 1 286.7,441.5 L268.7,442.1 A3.7,3.7 0 0 1 268.7,434.7Z" fill="#050505" opacity="1.0"/><path d="M302.0,431.0 L320.3,431.3 A5.1,5.1 0 0 1 320.3,441.5 L302.0,441.0 A5.0,5.0 0 0 1 302.0,431.0Z" fill="#050505" opacity="1.0"/></g><g filter="url(#bblur)"><path d="M268.7,434.7 L286.7,433.7 A3.9,3.9 0 0 1 286.7,441.5 L268.7,442.1 A3.7,3.7 0 0 1 268.7,434.7Z" fill="#050505" opacity="1.0"/><path d="M302.0,431.0 L320.3,431.3 A5.1,5.1 0 0 1 320.3,441.5 L302.0,441.0 A5.0,5.0 0 0 1 302.0,431.0Z" fill="#050505" opacity="1.0"/></g></g>
<rect x="262.3" y="422.8" width="65.5" height="30.2" fill="none" stroke="#1c1c1c" stroke-width="1.15"/>
<text x="258.3" y="442.2" font-size="13.2" text-anchor="end" font-weight="normal" >Bax</text>
<text x="333.0" y="442.2" font-size="13.0" text-anchor="start" font-weight="normal" >21 kDa</text>
<rect x="262.3" y="457.7" width="65.5" height="30.2" fill="#efefef"/>
<rect x="262.3" y="457.7" width="65.5" height="30.2" fill="#000" filter="url(#noise)" opacity="0.075"/>
<g clip-path="url(#bc6)"><g filter="url(#bhalo)" opacity="0.35"><path d="M270.3,472.9 L287.6,471.2 A3.8,3.8 0 0 1 287.6,478.8 L270.3,479.9 A3.5,3.5 0 0 1 270.3,472.9Z" fill="#050505" opacity="1.0"/><path d="M304.3,470.1 L320.7,469.3 A3.5,3.5 0 0 1 320.7,476.3 L304.3,477.5 A3.7,3.7 0 0 1 304.3,470.1Z" fill="#050505" opacity="1.0"/></g><g filter="url(#bblur)"><path d="M270.3,472.9 L287.6,471.2 A3.8,3.8 0 0 1 287.6,478.8 L270.3,479.9 A3.5,3.5 0 0 1 270.3,472.9Z" fill="#050505" opacity="1.0"/><path d="M304.3,470.1 L320.7,469.3 A3.5,3.5 0 0 1 320.7,476.3 L304.3,477.5 A3.7,3.7 0 0 1 304.3,470.1Z" fill="#050505" opacity="1.0"/></g></g>
<rect x="262.3" y="457.7" width="65.5" height="30.2" fill="none" stroke="#1c1c1c" stroke-width="1.15"/>
<text x="258.3" y="477.09999999999997" font-size="13.2" text-anchor="end" font-weight="normal" >β-actin</text>
<text x="333.0" y="477.09999999999997" font-size="13.0" text-anchor="start" font-weight="normal" >42 kDa</text>
<text transform="translate(281,497.8) rotate(-45)" font-size="13.2" text-anchor="end">NC antargomir</text>
<text transform="translate(316.6,498) rotate(-45)" font-size="13.2" text-anchor="end">miR-96 antargomir</text>
<rect x="454.7" y="295.2" width="19.1" height="9.4" fill="#8A34BE"/>
<rect x="454.7" y="319.4" width="19.1" height="9.4" fill="#EE5C1C"/>
<text x="484.9" y="304.8" font-size="13.15" text-anchor="start" font-weight="normal" >NC antargomir</text>
<text x="484.9" y="329.2" font-size="13.15" text-anchor="start" font-weight="normal" >miR-96 antargomir</text>
<rect x="445.8" y="432.7" width="11.5" height="44.9" fill="#8A34BE"/>
<rect x="462.8" y="449.1" width="11.5" height="28.5" fill="#EE5C1C"/>
<line x1="451.6" y1="427.5" x2="451.6" y2="433.0" stroke="#0a0a0a" stroke-width="1.3" />
<line x1="448.7" y1="427.5" x2="454.4" y2="427.5" stroke="#0a0a0a" stroke-width="1.4" />
<line x1="468.6" y1="444.8" x2="468.6" y2="449.4" stroke="#0a0a0a" stroke-width="1.3" />
<line x1="465.7" y1="444.8" x2="471.4" y2="444.8" stroke="#0a0a0a" stroke-width="1.4" />
<polyline points="452.7,419.2 452.7,414.4 469.0,414.4 469.0,421.0" fill="none" stroke="#0a0a0a" stroke-width="1.3"/>
<text x="460.9" y="413.8" font-size="12" text-anchor="middle" font-weight="normal" >*</text>
<line x1="459.8" y1="477.6" x2="459.8" y2="485.0" stroke="#0a0a0a" stroke-width="2.0" />
<text x="459.8" y="498.7" font-size="13.2" text-anchor="middle" font-weight="normal" >CDK2</text>
<rect x="491.2" y="410.6" width="11.5" height="67.0" fill="#8A34BE"/>
<rect x="508.2" y="451.2" width="11.5" height="26.4" fill="#EE5C1C"/>
<line x1="497.0" y1="406.2" x2="497.0" y2="410.9" stroke="#0a0a0a" stroke-width="1.3" />
<line x1="494.1" y1="406.2" x2="499.9" y2="406.2" stroke="#0a0a0a" stroke-width="1.4" />
<line x1="514.0" y1="448.0" x2="514.0" y2="451.5" stroke="#0a0a0a" stroke-width="1.3" />
<line x1="511.1" y1="448.0" x2="516.9" y2="448.0" stroke="#0a0a0a" stroke-width="1.4" />
<polyline points="496.7,399.1 496.7,394.3 512.7,394.3 512.7,400.9" fill="none" stroke="#0a0a0a" stroke-width="1.3"/>
<text x="504.7" y="393.7" font-size="12" text-anchor="middle" font-weight="normal" >*</text>
<line x1="505.2" y1="477.6" x2="505.2" y2="485.0" stroke="#0a0a0a" stroke-width="2.0" />
<text x="505.2" y="498.7" font-size="13.2" text-anchor="middle" font-weight="normal" >CDK4</text>
<rect x="536.7" y="416.6" width="11.5" height="61.0" fill="#8A34BE"/>
<rect x="553.7" y="447.7" width="11.5" height="29.9" fill="#EE5C1C"/>
<line x1="542.4" y1="411.6" x2="542.4" y2="416.9" stroke="#0a0a0a" stroke-width="1.3" />
<line x1="539.5" y1="411.6" x2="545.3" y2="411.6" stroke="#0a0a0a" stroke-width="1.4" />
<line x1="559.4" y1="443.4" x2="559.4" y2="448.0" stroke="#0a0a0a" stroke-width="1.3" />
<line x1="556.5" y1="443.4" x2="562.3" y2="443.4" stroke="#0a0a0a" stroke-width="1.4" />
<polyline points="542.3,405.7 542.3,400.9 558.7,400.9 558.7,407.5" fill="none" stroke="#0a0a0a" stroke-width="1.3"/>
<text x="550.5" y="400.3" font-size="12" text-anchor="middle" font-weight="normal" >*</text>
<line x1="550.7" y1="477.6" x2="550.7" y2="485.0" stroke="#0a0a0a" stroke-width="2.0" />
<text x="550.7" y="498.7" font-size="13.2" text-anchor="middle" font-weight="normal" >Ki-67</text>
<rect x="582.1" y="397.5" width="11.5" height="80.1" fill="#8A34BE"/>
<rect x="599.1" y="420.1" width="11.5" height="57.5" fill="#EE5C1C"/>
<line x1="587.9" y1="390.0" x2="587.9" y2="397.8" stroke="#0a0a0a" stroke-width="1.3" />
<line x1="585.0" y1="390.0" x2="590.8" y2="390.0" stroke="#0a0a0a" stroke-width="1.4" />
<line x1="604.9" y1="414.6" x2="604.9" y2="420.4" stroke="#0a0a0a" stroke-width="1.3" />
<line x1="602.0" y1="414.6" x2="607.8" y2="414.6" stroke="#0a0a0a" stroke-width="1.4" />
<polyline points="587.7,384.4 587.7,379.6 603.6,379.6 603.6,386.2" fill="none" stroke="#0a0a0a" stroke-width="1.3"/>
<text x="595.7" y="379.0" font-size="12" text-anchor="middle" font-weight="normal" >*</text>
<line x1="596.1" y1="477.6" x2="596.1" y2="485.0" stroke="#0a0a0a" stroke-width="2.0" />
<text x="596.1" y="498.7" font-size="13.2" text-anchor="middle" font-weight="normal" >PCNA</text>
<rect x="627.6" y="422.9" width="11.5" height="54.7" fill="#8A34BE"/>
<rect x="644.6" y="448.6" width="11.5" height="29.0" fill="#EE5C1C"/>
<line x1="633.3" y1="416.5" x2="633.3" y2="423.2" stroke="#0a0a0a" stroke-width="1.3" />
<line x1="630.4" y1="416.5" x2="636.2" y2="416.5" stroke="#0a0a0a" stroke-width="1.4" />
<line x1="650.3" y1="443.9" x2="650.3" y2="448.9" stroke="#0a0a0a" stroke-width="1.3" />
<line x1="647.4" y1="443.9" x2="653.2" y2="443.9" stroke="#0a0a0a" stroke-width="1.4" />
<polyline points="632.8,409.6 632.8,404.8 648.6,404.8 648.6,411.4" fill="none" stroke="#0a0a0a" stroke-width="1.3"/>
<text x="640.7" y="404.2" font-size="12" text-anchor="middle" font-weight="normal" >*</text>
<line x1="641.6" y1="477.6" x2="641.6" y2="485.0" stroke="#0a0a0a" stroke-width="2.0" />
<text x="641.6" y="498.7" font-size="13.2" text-anchor="middle" font-weight="normal" >Bcl-2</text>
<rect x="673.0" y="395.4" width="11.5" height="82.2" fill="#8A34BE"/>
<rect x="690.0" y="338.6" width="11.5" height="139.0" fill="#EE5C1C"/>
<line x1="678.8" y1="389.0" x2="678.8" y2="395.7" stroke="#0a0a0a" stroke-width="1.3" />
<line x1="675.9" y1="389.0" x2="681.6" y2="389.0" stroke="#0a0a0a" stroke-width="1.4" />
<line x1="695.8" y1="327.2" x2="695.8" y2="338.9" stroke="#0a0a0a" stroke-width="1.3" />
<line x1="692.9" y1="327.2" x2="698.6" y2="327.2" stroke="#0a0a0a" stroke-width="1.4" />
<polyline points="679.9,319.4 679.9,314.6 696.6,314.6 696.6,321.2" fill="none" stroke="#0a0a0a" stroke-width="1.3"/>
<text x="688.2" y="314.0" font-size="12" text-anchor="middle" font-weight="normal" >*</text>
<line x1="687.0" y1="477.6" x2="687.0" y2="485.0" stroke="#0a0a0a" stroke-width="2.0" />
<text x="687.0" y="498.7" font-size="13.2" text-anchor="middle" font-weight="normal" >Bax</text>
<line x1="440.3" y1="298.3" x2="440.3" y2="478.70000000000005" stroke="#0a0a0a" stroke-width="2.2" />
<line x1="439.2" y1="477.6" x2="704" y2="477.6" stroke="#0a0a0a" stroke-width="2.2" />
<line x1="432.40000000000003" y1="477.6" x2="440.3" y2="477.6" stroke="#0a0a0a" stroke-width="2.0" />
<text x="430.3" y="482.3" font-size="13.6" text-anchor="end" font-weight="normal" >0.0</text>
<line x1="432.40000000000003" y1="441.95000000000005" x2="440.3" y2="441.95000000000005" stroke="#0a0a0a" stroke-width="2.0" />
<text x="430.3" y="446.65000000000003" font-size="13.6" text-anchor="end" font-weight="normal" >0.5</text>
<line x1="432.40000000000003" y1="406.3" x2="440.3" y2="406.3" stroke="#0a0a0a" stroke-width="2.0" />
<text x="430.3" y="411.0" font-size="13.6" text-anchor="end" font-weight="normal" >1.0</text>
<line x1="432.40000000000003" y1="370.65000000000003" x2="440.3" y2="370.65000000000003" stroke="#0a0a0a" stroke-width="2.0" />
<text x="430.3" y="375.35" font-size="13.6" text-anchor="end" font-weight="normal" >1.5</text>
<line x1="432.40000000000003" y1="335.0" x2="440.3" y2="335.0" stroke="#0a0a0a" stroke-width="2.0" />
<text x="430.3" y="339.7" font-size="13.6" text-anchor="end" font-weight="normal" >2.0</text>
<line x1="432.40000000000003" y1="299.35" x2="440.3" y2="299.35" stroke="#0a0a0a" stroke-width="2.0" />
<text x="430.3" y="304.05" font-size="13.6" text-anchor="end" font-weight="normal" >2.5</text>
<text transform="translate(403.8,397.2) rotate(-90)" font-size="13.1" text-anchor="middle">Relative expression of protein</text>
<text x="0.0" y="15.1" font-size="21.2" text-anchor="start" font-weight="bold" >A</text>
<text x="393.6" y="15.1" font-size="21.2" text-anchor="start" font-weight="bold" textLength="13.6" lengthAdjust="spacingAndGlyphs">B</text>
<text x="0.3" y="253.5" font-size="21.1" text-anchor="start" font-weight="bold" textLength="14.4" lengthAdjust="spacingAndGlyphs">C</text>
<text x="196.1" y="253.6" font-size="21.0" text-anchor="start" font-weight="bold" >D</text>
<text x="403.7" y="253.9" font-size="22.0" text-anchor="start" font-weight="bold" textLength="14.1" lengthAdjust="spacingAndGlyphs">E</text>
</svg>
</body></html>
